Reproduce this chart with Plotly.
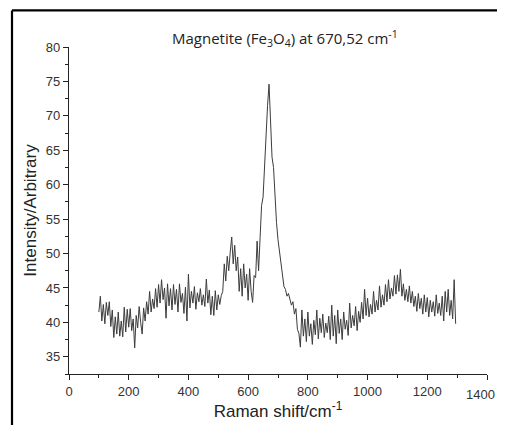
import plotly.graph_objects as go

# Raman shift grid (cm^-1): start, step
shift_start = 100
shift_step = 5

intensity = [
    41.5, 43.8, 40.2, 42.6, 39.8, 42.9, 41.0, 43.0, 39.4, 41.8,   # 100-145
    37.8, 40.8, 38.3, 41.5, 38.0, 40.2, 37.9, 42.2, 38.6, 41.9,   # 150-195
    39.3, 42.0, 38.8, 40.5, 36.3, 41.0, 39.2, 42.3, 40.0, 38.3,   # 200-245
    42.1, 40.2, 43.0, 41.2, 44.5, 41.5, 43.4, 42.0, 44.9, 42.2,   # 250-295
    45.5, 42.8, 46.2, 43.3, 45.0, 40.6, 45.6, 42.4, 44.9, 41.8,   # 300-345
    45.5, 42.6, 44.8, 41.5, 45.6, 42.9, 44.2, 41.3, 45.1, 40.2,   # 350-395
    47.0, 42.1, 44.5, 42.8, 45.2, 41.9, 44.3, 43.0, 44.9, 42.5,   # 400-445
    44.0, 42.3, 46.3, 42.8, 44.7, 41.1, 43.8, 41.0, 44.6, 41.8,   # 450-495
    44.0, 42.6, 43.9, 44.5, 48.5, 46.0, 49.6, 47.5, 50.2, 52.4,   # 500-545
    48.5, 51.2, 47.5, 49.5, 44.5, 47.8, 43.8, 48.5, 45.0, 47.0,   # 550-595
    43.2, 47.8, 44.5, 42.9, 46.8, 46.5, 51.8, 47.5, 52.3, 57.0,   # 600-645
    58.2, 63.0, 66.5, 71.5, 74.6, 70.0, 64.0, 62.5, 57.8, 54.5,   # 650-695
    52.0, 50.2, 48.8, 46.5, 45.2, 44.8, 43.8, 44.2, 43.4, 42.5,   # 700-745
    43.0, 41.2, 42.0, 39.0, 38.4, 36.4, 41.8, 38.0, 40.5, 37.2,   # 750-795
    41.5, 38.0, 39.8, 36.8, 40.3, 38.2, 41.8, 37.6, 40.6, 38.5,   # 800-845
    41.2, 37.8, 39.9, 38.5, 40.9, 37.5, 42.5, 38.0, 41.0, 36.9,   # 850-895
    41.8, 38.4, 40.5, 37.5, 41.5, 39.0, 40.3, 38.1, 42.8, 39.2,   # 900-945
    41.0, 39.5, 42.3, 38.8, 41.6, 40.0, 42.9, 40.5, 44.8, 41.0,   # 950-995
    43.5, 40.8, 42.6, 41.2, 44.5, 41.5, 43.2, 41.8, 45.3, 42.2,   # 1000-1045
    44.0, 42.5, 45.5, 43.0, 46.2, 43.4, 45.0, 43.8, 46.8, 44.1,   # 1050-1095
    46.9, 44.5, 47.7, 43.8, 45.6, 43.2, 44.8, 43.0, 45.3, 42.8,   # 1100-1145
    44.5, 42.3, 43.8, 41.6, 44.2, 42.0, 43.5, 41.2, 44.0, 41.5,   # 1150-1195
    43.6, 40.8, 43.2, 41.5, 43.0, 40.9, 44.0, 41.3, 42.8, 41.0,   # 1200-1245
    43.8, 40.2, 44.5, 41.5, 44.8, 41.0, 43.2, 40.5, 46.2, 39.8,   # 1250-1295
]
raman_shift = [shift_start + shift_step * i for i in range(len(intensity))]

x_ticks = [0, 200, 400, 600, 800, 1000, 1200, 1400]
y_ticks = [35, 40, 45, 50, 55, 60, 65, 70, 75, 80]
# last x label sits at the page edge; drawn separately so it is not clipped
x_ticktext = [str(v) for v in x_ticks[:-1]] + [""]
x_last_label = str(x_ticks[-1])

title_text = "Magnetite (Fe<sub>3</sub>O<sub>4</sub>) at 670,52 cm<sup>-1</sup>"
x_title = "Raman shift/cm<sup>-1</sup>"
y_title = "Intensity/Arbitrary"

fig = go.Figure()
fig.add_trace(go.Scatter(
    x=raman_shift, y=intensity, mode="lines",
    line=dict(color="#3c3c3c", width=1), showlegend=False,
))

# page body has an 8px margin on every side; figure sized to fit without scrolling
W, H = 489, 417
ml, mr, mt, mb = 61, 10, 39, 47
pw, ph = W - ml - mr, H - mt - mb

tick_font = dict(family="Liberation Sans, Arial", size=13, color="#333")
axis_common = dict(
    showgrid=False, zeroline=False, showline=True, linecolor="#222",
    linewidth=1.3, ticks="outside", ticklen=5, tickwidth=1.2, tickcolor="#222",
    tickfont=tick_font,
    title_font=dict(family="Liberation Sans, Arial", size=17, color="#222"),
)

fig.update_layout(
    width=W, height=H,
    margin=dict(l=ml, r=mr, t=mt, b=mb),
    paper_bgcolor="white", plot_bgcolor="white",
    xaxis=dict(
        range=[0, 1400], tickvals=x_ticks, ticktext=x_ticktext,
        title_text=x_title, title_standoff=4,
        minor=dict(dtick=100, ticks="outside", ticklen=3, tickcolor="#222"),
        **axis_common,
    ),
    yaxis=dict(
        range=[32.5, 80], tickvals=y_ticks, title_text=y_title, title_standoff=4,
        minor=dict(dtick=2.5, tick0=0, ticks="outside", ticklen=3, tickcolor="#222"),
        **axis_common,
    ),
    annotations=[
        dict(
            text=title_text, xref="paper", yref="paper",
            x=(277 - ml) / pw, y=(H - mb - 30) / ph, xanchor="center", yanchor="middle",
            showarrow=False, font=dict(family="Open Sans", size=15, color="#222"),
        ),
        dict(
            text=x_last_label, xref="paper", yref="paper",
            x=1 + (mr - 1) / pw, y=0, xanchor="right", yanchor="top", yshift=-12,
            showarrow=False, font=tick_font, borderpad=0,
        ),
    ],
    shapes=[
        dict(type="line", xref="paper", yref="paper",
             x0=(4 - ml) / pw, x1=(4 - ml) / pw,
             y0=(H - mb - 2) / ph, y1=(H - mb - H - 5) / ph,
             line=dict(color="black", width=2.2)),
        dict(type="line", xref="paper", yref="paper",
             x0=(4 - ml) / pw, x1=(W + 5 - ml) / pw,
             y0=(H - mb - 2) / ph, y1=(H - mb - 2) / ph,
             line=dict(color="black", width=2.2)),
    ],
)

fig.write_html("out.html")
